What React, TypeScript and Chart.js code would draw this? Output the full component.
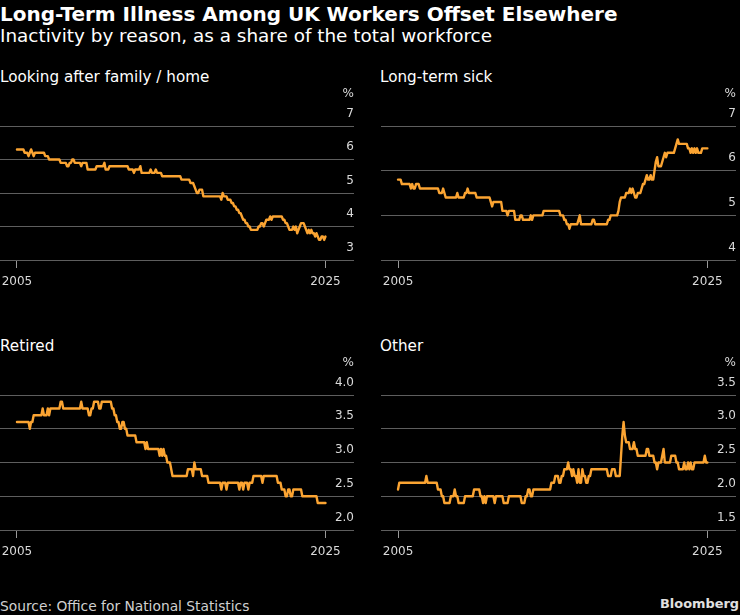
import React, { useEffect, useRef } from "react";
import { Chart, registerables } from "chart.js";

Chart.register(...registerables);

// Monthly readings, Jan 2005 .. Jan 2025 (% of total workforce)
const START_YEAR = 2005;

const familyHome = [
  6.3, 6.3, 6.3, 6.3, 6.3, 6.3, 6.2, 6.2, 6.2, 6.1, 6.2, 6.3,
  6.2, 6.1, 6.2, 6.2, 6.2, 6.2, 6.2, 6.2, 6.2, 6.2, 6.1, 6.1,
  6.1, 6.0, 6.0, 6.0, 6.0, 6.0, 6.0, 6.0, 6.0, 6.0, 5.9, 5.9,
  5.9, 5.9, 5.9, 5.8, 5.8, 5.9, 5.9, 6.0, 6.0, 5.9, 5.9, 5.9,
  5.9, 5.9, 5.8, 5.9, 5.9, 5.9, 5.9, 5.7, 5.7, 5.7, 5.7, 5.7,
  5.7, 5.7, 5.8, 5.8, 5.8, 5.8, 5.8, 5.8, 5.9, 5.7, 5.7, 5.7,
  5.8, 5.8, 5.8, 5.8, 5.8, 5.8, 5.8, 5.8, 5.8, 5.8, 5.8, 5.8,
  5.8, 5.8, 5.8, 5.7, 5.7, 5.7, 5.7, 5.6, 5.7, 5.7, 5.7, 5.7,
  5.8, 5.6, 5.6, 5.6, 5.6, 5.6, 5.6, 5.6, 5.7, 5.6, 5.6, 5.6,
  5.7, 5.6, 5.6, 5.6, 5.6, 5.5, 5.5, 5.5, 5.5, 5.5, 5.5, 5.5,
  5.5, 5.5, 5.5, 5.5, 5.5, 5.5, 5.5, 5.5, 5.4, 5.4, 5.4, 5.4,
  5.4, 5.4, 5.4, 5.3, 5.3, 5.3, 5.2, 5.1, 5.0, 5.0, 5.1, 5.1,
  5.1, 4.9, 4.9, 4.9, 4.9, 4.9, 4.9, 4.9, 4.9, 4.9, 4.9, 4.9,
  4.9, 4.9, 4.9, 4.8, 5.0, 4.9, 4.9, 4.9, 4.8, 4.8, 4.8, 4.7,
  4.7, 4.6, 4.6, 4.5, 4.5, 4.4, 4.4, 4.3, 4.2, 4.2, 4.1, 4.1,
  4.0, 4.0, 3.9, 3.9, 3.9, 3.9, 3.9, 3.9, 4.0, 4.0, 4.1, 4.1,
  4.0, 4.1, 4.2, 4.2, 4.2, 4.3, 4.2, 4.3, 4.3, 4.3, 4.3, 4.3,
  4.3, 4.3, 4.3, 4.2, 4.2, 4.1, 4.1, 4.0, 3.9, 3.9, 3.9, 4.0,
  3.9, 4.0, 3.8, 3.9, 4.0, 4.1, 4.1, 4.1, 4.0, 3.9, 3.8, 3.9,
  3.8, 3.9, 3.8, 3.8, 3.7, 3.8, 3.7, 3.6, 3.6, 3.7, 3.7, 3.6,
  3.7,
];

const longTermSick = [
  5.8, 5.8, 5.8, 5.7, 5.7, 5.7, 5.7, 5.7, 5.7, 5.7, 5.6, 5.7,
  5.6, 5.6, 5.7, 5.7, 5.7, 5.6, 5.6, 5.6, 5.6, 5.6, 5.6, 5.6,
  5.6, 5.6, 5.6, 5.6, 5.6, 5.6, 5.6, 5.6, 5.5, 5.5, 5.5, 5.6,
  5.5, 5.4, 5.4, 5.4, 5.4, 5.4, 5.4, 5.4, 5.4, 5.4, 5.5, 5.4,
  5.4, 5.4, 5.4, 5.4, 5.5, 5.5, 5.6, 5.5, 5.5, 5.5, 5.5, 5.5,
  5.5, 5.4, 5.4, 5.4, 5.4, 5.4, 5.4, 5.4, 5.4, 5.4, 5.4, 5.4,
  5.3, 5.2, 5.3, 5.3, 5.3, 5.3, 5.3, 5.3, 5.3, 5.1, 5.1, 5.1,
  5.1, 5.0, 5.1, 5.1, 5.1, 5.1, 5.1, 4.9, 4.9, 4.9, 4.9, 5.0,
  5.0, 4.9, 4.9, 4.9, 4.9, 4.9, 4.9, 5.0, 4.9, 5.0, 5.0, 5.0,
  5.0, 5.0, 5.0, 5.0, 5.0, 5.1, 5.1, 5.1, 5.1, 5.1, 5.1, 5.1,
  5.1, 5.1, 5.1, 5.1, 5.1, 5.1, 5.0, 5.0, 5.0, 4.9, 4.9, 4.8,
  4.8, 4.7, 4.8, 4.8, 4.8, 4.8, 4.8, 4.8, 4.9, 5.0, 4.8, 4.8,
  4.8, 4.8, 4.8, 4.8, 4.8, 4.8, 4.8, 4.9, 4.9, 4.8, 4.8, 4.8,
  4.8, 4.8, 4.8, 4.8, 4.8, 4.8, 4.8, 4.9, 4.9, 5.0, 5.0, 5.0,
  5.0, 5.0, 5.0, 5.1, 5.3, 5.4, 5.4, 5.4, 5.4, 5.5, 5.5, 5.5,
  5.6, 5.5, 5.6, 5.5, 5.4, 5.4, 5.5, 5.5, 5.5, 5.6, 5.7, 5.7,
  5.8, 5.9, 5.8, 5.8, 5.9, 5.8, 5.8, 6.0, 6.2, 6.3, 6.1, 6.1,
  6.1, 6.2, 6.3, 6.4, 6.3, 6.4, 6.4, 6.4, 6.4, 6.4, 6.4, 6.5,
  6.6, 6.7, 6.6, 6.6, 6.6, 6.6, 6.6, 6.6, 6.6, 6.5, 6.5, 6.4,
  6.5, 6.4, 6.5, 6.4, 6.5, 6.4, 6.4, 6.4, 6.5, 6.5, 6.5, 6.5,
  6.5,
];

const retired = [
  3.6, 3.6, 3.6, 3.6, 3.6, 3.6, 3.6, 3.6, 3.6, 3.6, 3.5, 3.6,
  3.6, 3.7, 3.7, 3.7, 3.7, 3.7, 3.7, 3.7, 3.8, 3.7, 3.7, 3.7,
  3.8, 3.7, 3.8, 3.8, 3.8, 3.8, 3.8, 3.8, 3.8, 3.8, 3.9, 3.9,
  3.8, 3.8, 3.8, 3.8, 3.8, 3.8, 3.8, 3.8, 3.8, 3.8, 3.8, 3.8,
  3.8, 3.8, 3.9, 3.8, 3.8, 3.8, 3.8, 3.8, 3.7, 3.7, 3.8, 3.8,
  3.9, 3.9, 3.9, 3.9, 3.8, 3.8, 3.9, 3.9, 3.9, 3.9, 3.9, 3.9,
  3.9, 3.9, 3.8, 3.8, 3.7, 3.7, 3.6, 3.6, 3.5, 3.5, 3.6, 3.6,
  3.5, 3.5, 3.4, 3.4, 3.4, 3.4, 3.4, 3.4, 3.4, 3.3, 3.3, 3.3,
  3.3, 3.3, 3.3, 3.3, 3.2, 3.3, 3.2, 3.2, 3.2, 3.2, 3.2, 3.2,
  3.2, 3.2, 3.2, 3.1, 3.2, 3.1, 3.2, 3.1, 3.1, 3.0, 3.0, 3.0,
  2.9, 2.8, 2.8, 2.8, 2.8, 2.8, 2.8, 2.8, 2.8, 2.8, 2.8, 2.8,
  2.8, 2.9, 2.9, 2.9, 2.9, 2.8, 3.0, 2.9, 2.9, 2.9, 2.9, 2.9,
  2.8, 2.8, 2.8, 2.8, 2.8, 2.7, 2.7, 2.7, 2.7, 2.7, 2.7, 2.7,
  2.7, 2.7, 2.7, 2.6, 2.7, 2.7, 2.7, 2.6, 2.7, 2.7, 2.7, 2.7,
  2.7, 2.7, 2.7, 2.7, 2.7, 2.6, 2.7, 2.7, 2.6, 2.7, 2.7, 2.7,
  2.6, 2.7, 2.7, 2.7, 2.8, 2.8, 2.8, 2.8, 2.8, 2.8, 2.8, 2.7,
  2.8, 2.8, 2.8, 2.8, 2.8, 2.8, 2.8, 2.8, 2.8, 2.8, 2.8, 2.7,
  2.7, 2.7, 2.6, 2.6, 2.6, 2.5, 2.5, 2.6, 2.6, 2.5, 2.5, 2.6,
  2.6, 2.6, 2.6, 2.6, 2.6, 2.6, 2.5, 2.5, 2.5, 2.5, 2.5, 2.5,
  2.5, 2.5, 2.5, 2.5, 2.5, 2.5, 2.4, 2.4, 2.4, 2.4, 2.4, 2.4,
  2.4,
];

const other = [
  2.1, 2.2, 2.2, 2.2, 2.2, 2.2, 2.2, 2.2, 2.2, 2.2, 2.2, 2.2,
  2.2, 2.2, 2.2, 2.2, 2.2, 2.2, 2.2, 2.2, 2.2, 2.2, 2.3, 2.2,
  2.2, 2.2, 2.2, 2.2, 2.2, 2.2, 2.2, 2.1, 2.1, 2.1, 2.0, 2.0,
  1.9, 1.9, 1.9, 1.9, 1.9, 2.0, 2.0, 2.0, 2.1, 2.0, 2.0, 1.9,
  1.9, 1.9, 1.9, 1.9, 2.0, 2.0, 2.0, 2.0, 2.0, 2.0, 2.0, 2.1,
  2.1, 2.1, 2.1, 2.1, 2.0, 2.0, 1.9, 2.0, 1.9, 2.0, 2.0, 2.0,
  2.0, 2.0, 2.0, 1.9, 2.0, 2.0, 2.0, 2.0, 2.0, 2.0, 1.9, 1.9,
  1.9, 1.9, 2.0, 2.0, 2.0, 2.0, 2.0, 2.0, 2.0, 2.0, 2.0, 2.0,
  1.9, 1.9, 1.9, 2.0, 2.0, 2.1, 2.1, 2.0, 2.0, 2.1, 2.1, 2.1,
  2.1, 2.1, 2.1, 2.1, 2.1, 2.1, 2.1, 2.1, 2.1, 2.1, 2.1, 2.2,
  2.2, 2.2, 2.3, 2.3, 2.3, 2.2, 2.2, 2.3, 2.3, 2.4, 2.4, 2.4,
  2.5, 2.4, 2.4, 2.3, 2.4, 2.3, 2.3, 2.2, 2.4, 2.2, 2.2, 2.4,
  2.3, 2.3, 2.2, 2.2, 2.3, 2.3, 2.4, 2.4, 2.4, 2.4, 2.4, 2.4,
  2.4, 2.4, 2.4, 2.4, 2.4, 2.4, 2.4, 2.3, 2.3, 2.3, 2.4, 2.4,
  2.4, 2.3, 2.3, 2.3, 2.3, 2.6, 2.9, 3.1, 2.9, 2.8, 2.8, 2.8,
  2.7, 2.7, 2.7, 2.8, 2.7, 2.7, 2.6, 2.6, 2.6, 2.6, 2.6, 2.6,
  2.6, 2.7, 2.7, 2.6, 2.6, 2.6, 2.6, 2.5, 2.5, 2.4, 2.5, 2.5,
  2.5, 2.6, 2.7, 2.5, 2.5, 2.5, 2.5, 2.5, 2.6, 2.6, 2.6, 2.6,
  2.5, 2.5, 2.4, 2.4, 2.4, 2.4, 2.5, 2.4, 2.4, 2.5, 2.4, 2.5,
  2.4, 2.4, 2.5, 2.5, 2.5, 2.5, 2.5, 2.5, 2.5, 2.5, 2.6, 2.5,
  2.5,
];

const xTickYears = [2005, 2025];
const familyTicks = [3, 4, 5, 6, 7];
const sickTicks = [4, 5, 6, 7];
const retiredTicks = [2.0, 2.5, 3.0, 3.5, 4.0];
const otherTicks = [1.5, 2.0, 2.5, 3.0, 3.5];

const FONT = '"DejaVu Sans", "Noto Sans", sans-serif';
const LINE_COLOR = "#fba432";
const GRID_COLOR = "#5e5e5e";
const TICK_COLOR = "#dadada";

type PanelProps = {
  title: string;
  values: number[];
  ticks: number[];
  decimals: number;
  left: number;
  top: number;
  width: number;
  height: number;
  padLeft: number;
  padRight: number;
  titleLeft: number;
  titleTop: number;
};

const percentPlugin = {
  id: "percentLabel",
  afterDraw(chart: any) {
    const { ctx, chartArea } = chart;
    ctx.save();
    ctx.font = `12px ${FONT}`;
    ctx.fillStyle = TICK_COLOR;
    ctx.textAlign = "right";
    ctx.textBaseline = "middle";
    ctx.fillText("%", chartArea.right, chartArea.top - 32);
    ctx.restore();
  },
};

function Panel(p: PanelProps) {
  const ref = useRef<HTMLCanvasElement | null>(null);
  useEffect(() => {
    if (!ref.current) return;
    const points = p.values.map((v, i) => ({ x: START_YEAR + i / 12, y: v }));
    const chart = new Chart(ref.current, {
      type: "line",
      data: {
        datasets: [
          {
            data: points,
            borderColor: LINE_COLOR,
            borderWidth: 2.4,
            borderJoinStyle: "round",
            borderCapStyle: "round",
            pointRadius: 0,
            tension: 0,
            fill: false,
          },
        ],
      },
      options: {
        animation: false,
        responsive: false,
        maintainAspectRatio: false,
        events: [],
        layout: { padding: { left: p.padLeft, right: p.padRight, top: 40, bottom: 0 } },
        plugins: {
          legend: { display: false },
          tooltip: { enabled: false },
        },
        scales: {
          x: {
            type: "linear",
            min: 2003.9,
            max: 2026.85,
            afterBuildTicks: (s: any) => {
              s.ticks = xTickYears.map((v) => ({ value: v }));
            },
            afterFit: (s: any) => {
              s.height = 40;
            },
            grid: {
              drawOnChartArea: false,
              drawTicks: true,
              tickLength: 8,
              color: "#9a9a9a",
              tickColor: "#9a9a9a",
            },
            border: { display: false },
            ticks: {
              color: TICK_COLOR,
              font: { family: FONT, size: 12 },
              padding: 7,
              maxRotation: 0,
              autoSkip: false,
              callback: (v: any) => String(v),
            },
          },
          y: {
            type: "linear",
            position: "right",
            min: p.ticks[0],
            max: p.ticks[p.ticks.length - 1],
            afterBuildTicks: (s: any) => {
              s.ticks = p.ticks.map((v) => ({ value: v }));
            },
            afterFit: (s: any) => {
              s.width = 0;
            },
            grid: { color: GRID_COLOR, drawTicks: false, lineWidth: 1 },
            border: { display: false },
            ticks: {
              mirror: true,
              padding: 0,
              labelOffset: -12.5,
              color: TICK_COLOR,
              font: { family: FONT, size: 12 },
              autoSkip: false,
              callback: (v: any) => Number(v).toFixed(p.decimals),
            },
          },
        },
      },
      plugins: [percentPlugin],
    } as any);
    return () => chart.destroy();
  }, []);

  return (
    <>
      <div
        style={{
          position: "absolute",
          left: p.titleLeft,
          top: p.titleTop,
          fontFamily: FONT,
          fontSize: 15.2,
          lineHeight: "15.2px",
          color: "#ffffff",
          whiteSpace: "nowrap",
        }}
      >
        {p.title}
      </div>
      <canvas
        ref={ref}
        width={p.width}
        height={p.height}
        style={{
          position: "absolute",
          left: p.left,
          top: p.top,
          width: p.width,
          height: p.height,
          display: "block",
        }}
      />
    </>
  );
}

export default function App() {
  return (
    <div
      style={{
        position: "absolute",
        left: 0,
        top: 0,
        width: 740,
        height: 615,
        background: "#000000",
        overflow: "hidden",
        fontFamily: FONT,
      }}
    >
      <div
        style={{
          position: "absolute",
          left: 0,
          top: 3.6,
          fontSize: 20,
          lineHeight: "20px",
          fontWeight: "bold",
          color: "#ffffff",
          whiteSpace: "nowrap",
        }}
      >
        Long-Term Illness Among UK Workers Offset Elsewhere
      </div>
      <div
        style={{
          position: "absolute",
          left: 0,
          top: 27.1,
          fontSize: 18.4,
          lineHeight: "18.4px",
          color: "#ffffff",
          whiteSpace: "nowrap",
        }}
      >
        Inactivity by reason, as a share of the total workforce
      </div>

      <Panel
        title="Looking after family / home"
        values={familyHome}
        ticks={familyTicks}
        decimals={0}
        left={-20}
        top={86}
        width={390}
        height={214}
        padLeft={20}
        padRight={16}
        titleLeft={0}
        titleTop={69.5}
      />
      <Panel
        title="Long-term sick"
        values={longTermSick}
        ticks={sickTicks}
        decimals={0}
        left={361}
        top={86}
        width={379}
        height={214}
        padLeft={20}
        padRight={4}
        titleLeft={380}
        titleTop={69.5}
      />
      <Panel
        title="Retired"
        values={retired}
        ticks={retiredTicks}
        decimals={1}
        left={-20}
        top={355}
        width={390}
        height={215}
        padLeft={20}
        padRight={16}
        titleLeft={0}
        titleTop={339}
      />
      <Panel
        title="Other"
        values={other}
        ticks={otherTicks}
        decimals={1}
        left={361}
        top={355}
        width={379}
        height={215}
        padLeft={20}
        padRight={4}
        titleLeft={380}
        titleTop={339}
      />

      <div
        style={{
          position: "absolute",
          left: 0,
          top: 600,
          fontSize: 13.8,
          lineHeight: "13.8px",
          color: "#d0d0d0",
          whiteSpace: "nowrap",
        }}
      >
        Source: Office for National Statistics
      </div>
      <div
        style={{
          position: "absolute",
          right: 1,
          top: 598.4,
          fontSize: 12.9,
          lineHeight: "12.9px",
          fontWeight: "bold",
          color: "#e0e0e0",
          whiteSpace: "nowrap",
        }}
      >
        Bloomberg
      </div>
    </div>
  );
}
